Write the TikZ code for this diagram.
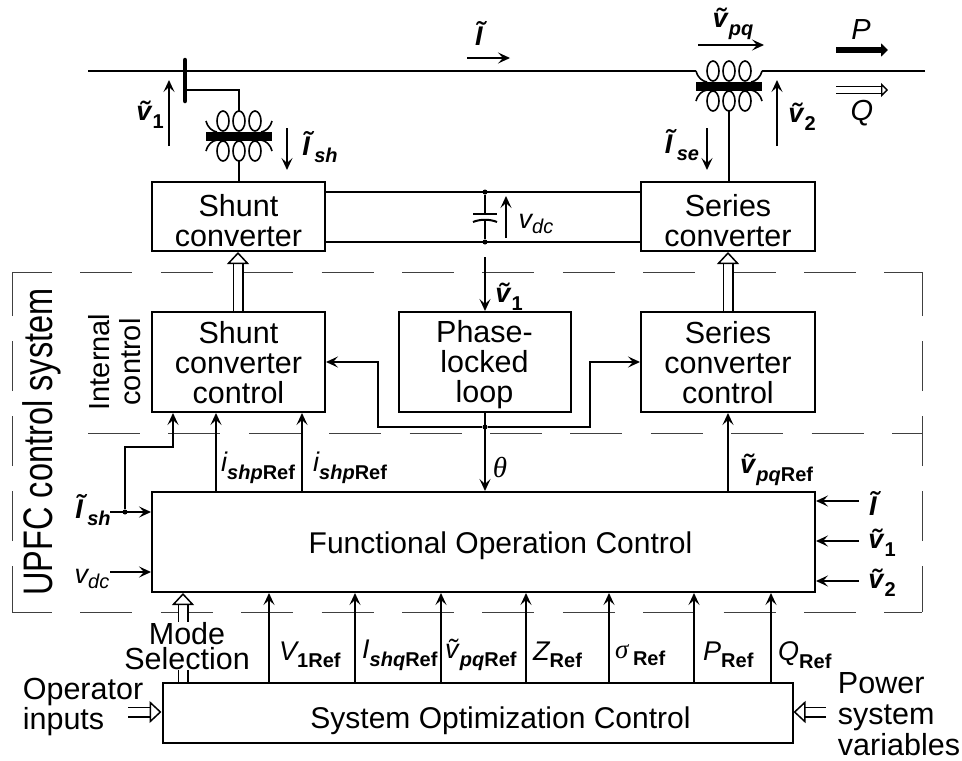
\documentclass[tikz,border=0pt]{standalone}
\usepackage{fontspec}
\setmainfont{Liberation Sans}
\newfontfamily\grk{Liberation Serif}
\usepackage{tikz}
\usetikzlibrary{arrows.meta,positioning,calc}

\newcommand{\bsub}[1]{\raisebox{-0.28em}{\fontsize{20}{20}\selectfont\bfseries\upshape #1}}
\newcommand{\bisub}[1]{\raisebox{-0.28em}{\fontsize{20}{20}\selectfont\bfseries\itshape #1}}
\newcommand{\tv}{\textbf{\textit{\~v}}}
\newcommand{\tI}{\textbf{\textit{\~I}}}
\newcommand{\dn}[1]{\rule{0pt}{#1pt}}

\tikzset{
  xfmr/.pic={
    \draw[thin wire] (-16,-15) ellipse (6 and 10);
    \draw[thin wire] (0,-15) ellipse (6 and 10);
    \draw[thin wire] (16,-15) ellipse (6 and 10);
    \draw[thin wire] (-16,15) ellipse (6 and 10);
    \draw[thin wire] (0,15) ellipse (6 and 10);
    \draw[thin wire] (16,15) ellipse (6 and 10);
    \draw[thin wire] (-33,-15) .. controls (-31,-8) and (-27,-5) .. (-22,-4);
    \draw[thin wire] (33,-15) .. controls (31,-8) and (27,-5) .. (22,-4);
    \draw[thin wire] (-33,15) .. controls (-31,8) and (-27,5) .. (-22,4);
    \draw[thin wire] (33,15) .. controls (31,8) and (27,5) .. (22,4);
    \draw[line width=9pt] (-33,0) -- (33,0);
    \coordinate (-top) at (0,-25);
    \coordinate (-bot) at (0,25);
    \coordinate (-left) at (-33,-15);
    \coordinate (-right) at (33,-15);
  }
}

\begin{document}
\begin{tikzpicture}[
    x=1pt, y=-1pt,
    wire/.style={line width=2pt},
    thin wire/.style={line width=1.6pt},
    box/.style={draw, line width=2pt, minimum width=#1, align=center, inner sep=0pt,
                font=\fontsize{30.5}{30}\selectfont},
    arr/.style={-{Stealth[length=12pt,width=11pt,inset=5pt]}, line width=1.8pt},
    hollow/.style={-{Triangle[fill=white,length=12pt,width=22pt,line width=1.5pt]},
                   double, double distance=8pt, line width=1.5pt},
    hdash/.style={line width=0.9pt, black!75, dash pattern=on 52pt off 28.4pt},
    vdash/.style={line width=0.9pt, black!75, dash pattern=on 50pt off 25pt},
    dot/.style={circle, fill=black, inner sep=0pt, minimum size=5pt},
    lab/.style={inner sep=0pt, font=\fontsize{27}{30}\selectfont},
    ilab/.style={lab, font=\fontsize{27}{30}\selectfont\itshape},
    word/.style={inner sep=0pt, align=left, font=\fontsize{30.5}{30}\selectfont}
  ]
  \useasboundingbox (0,0) rectangle (962,761);

  %% ---- boxes ----
  \node[box=173pt, minimum height=69pt]  (shconv) at (238.5,216.5) {\dn{30}Shunt\\converter};
  \node[box=174pt, minimum height=69pt]  (seconv) at (728,216.5)   {\dn{30}Series\\converter};
  \node[box=173pt, minimum height=100pt] (shctrl) at (238.5,362)   {\dn{24}Shunt\\converter\\control};
  \node[box=172pt, minimum height=100pt] (pll)    at (484.5,362)   {\dn{28}Phase-\\locked\\loop};
  \node[box=174pt, minimum height=100pt] (sectrl) at (728,362)     {\dn{24}Series\\converter\\control};
  \node[box=663pt, minimum height=100pt, font=\fontsize{30}{30}\selectfont] (foc) at (483.5,542) {\dn{30}\hspace*{34pt}Functional Operation Control};
  \node[box=630pt, minimum height=60pt, font=\fontsize{30}{30}\selectfont]  (soc) at (477.5,713) {\dn{38}\hspace*{46pt}System Optimization Control};

  %% ---- dashed frame of the control system ----
  \coordinate (frmSW) at (12,612);
  \coordinate (frmNE) at (922,272);
  \coordinate (frmMid) at (88,433);
  \draw[hdash, dash phase=12pt] (frmSW) -- (frmSW -| frmNE);
  \draw[hdash, dash phase=12pt] (frmNE -| frmSW) -- (frmNE);
  \draw[vdash, dash phase=4pt] (frmSW) -- (frmNE -| frmSW);
  \draw[vdash, dash phase=4pt] (frmSW -| frmNE) -- (frmNE);
  \draw[hdash] (frmMid) -- (frmMid -| frmNE);

  \node[rotate=90, yscale=1.27, inner sep=0pt, font=\fontsize{32.5}{33}\selectfont] (sysname) at (41.5,442) {UPFC control system};
  \node[rotate=90, inner sep=0pt, align=center, font=\fontsize{29}{31}\selectfont] (intname) at (115,362) {Internal\\control};

  %% ---- power line and transformers ----
  \pic (shxf) at (239,136) {xfmr};
  \pic (sexf) at (729,86) {xfmr};
  \coordinate (lineL) at (88,71);
  \coordinate (lineR) at (925,71);
  \draw[wire] (lineL) -- (lineL -| sexf-left);
  \draw[wire] (lineR) -- (lineR -| sexf-right);
  \draw[thin wire] (lineL -| sexf-left) -- (sexf-left);
  \draw[thin wire] (lineR -| sexf-right) -- (sexf-right);

  \coordinate (busT) at (185,60);
  \coordinate (busB) at (185,101);
  \coordinate (busTap) at (185,90);
  \draw[line width=4.5pt, line cap=round] (busT) -- (busB);
  \draw[wire] (busTap) -| (shxf-top);
  \draw[wire] (shxf-bot) -- (shconv.north -| shxf-bot);
  \draw[wire] (sexf-bot) -- (seconv.north -| sexf-bot);

  %% ---- measured quantities on the line ----
  \coordinate (iL) at (467,58);
  \coordinate (iR) at (510,58);
  \draw[arr, line width=1.2pt] (iL) -- (iR);
  \node[lab] (ilab) at (481,33) {\tI};

  \coordinate (vpqL) at (698,45);
  \coordinate (vpqR) at (764,45);
  \draw[arr, line width=1.2pt] (vpqL) -- (vpqR);
  \node[lab] (vpqlab) at (733,24) {\tv\bisub{pq}};

  \coordinate (pL) at (836,50);
  \coordinate (pR) at (888,50);
  \draw[-{Triangle[length=7pt,width=13pt]}, line width=6.5pt] (pL) -- (pR);
  \node[lab, font=\fontsize{29}{30}\selectfont\itshape] (plab) at (861,30) {P};

  \coordinate (qL) at (836,90);
  \coordinate (qR) at (888,90);
  \draw[hollow, -{Triangle[fill=white,length=7pt,width=14pt,line width=1.4pt]}, double distance=5.5pt, line width=1.4pt] (qL) -- (qR);
  \node[lab, font=\fontsize{29}{30}\selectfont\itshape] (qlab) at (862,113) {Q};

  \coordinate (v1B) at (169,146);
  \coordinate (v1T) at (169,80);
  \draw[arr] (v1B) -- (v1T);
  \node[lab] (v1lab) at (150,115) {\tv\bsub{1}};

  \coordinate (v2B) at (777,146);
  \coordinate (v2T) at (777,80);
  \draw[arr] (v2B) -- (v2T);
  \node[lab] (v2lab) at (802,117) {\tv\bsub{2}};

  \coordinate (ishT) at (287,128);
  \coordinate (ishB) at (287,170);
  \draw[arr] (ishT) -- (ishB);
  \node[lab] (ishlab) at (320,147) {\tI\bisub{sh}};

  \coordinate (iseT) at (707,128);
  \coordinate (iseB) at (707,170);
  \draw[arr] (iseT) -- (iseB);
  \node[lab] (iselab) at (682,145) {\tI\bisub{se}};

  %% ---- dc link ----
  \node[dot] (capT) at (485,192) {};
  \node[dot] (capB) at (485,242) {};
  \draw[wire] (shconv.east |- capT) -- (seconv.west |- capT);
  \draw[wire] (shconv.east |- capB) -- (seconv.west |- capB);
  \coordinate (plateT) at (485,214);
  \coordinate (plateB) at (485,219);
  \draw[wire] (capT) -- (plateT);
  \draw[wire] (plateB) -- (capB);
  \draw[wire] ([xshift=-12pt]plateT) -- ([xshift=12pt]plateT);
  \draw[wire] ([xshift=-12pt,yshift=-3pt]plateB) .. controls ([xshift=-5pt]plateB) and ([xshift=5pt]plateB) .. ([xshift=12pt,yshift=-3pt]plateB);
  \coordinate (vdcB) at (506,238);
  \coordinate (vdcT) at (506,196);
  \draw[arr] (vdcB) -- (vdcT);
  \node[ilab] (vdclab) at (536,224) {v\raisebox{-0.2em}{\fontsize{20}{20}\selectfont dc}};

  %% ---- power stage links ----
  \coordinate (shDbl) at (238,280);
  \coordinate (seDbl) at (728,280);
  \draw[hollow] (shctrl.north -| shDbl) -- (shconv.south -| shDbl);
  \draw[hollow] (sectrl.north -| seDbl) -- (seconv.south -| seDbl);

  %% ---- phase-locked loop ----
  \coordinate (pllIn) at (485,257);
  \draw[arr] (pllIn) -- (pll.north -| pllIn);
  \node[lab] (pllv1lab) at (509,297) {\tv\bsub{1}};

  \node[dot] (thJ) at (485,427) {};
  \coordinate (brL) at (378,362);
  \coordinate (brR) at (590,362);
  \draw[arr] (pll.south -| thJ) -- (foc.north -| thJ);
  \draw[arr] (thJ) -| (brL) -- (shctrl.east |- brL);
  \draw[arr] (thJ) -| (brR) -- (sectrl.west |- brR);
  \node[lab, font=\fontsize{29}{30}\selectfont\grk\itshape] (thlab) at (500,467) {θ};

  %% ---- references to internal control ----
  \coordinate (fbTop) at (173,447);
  \node[dot] (ishJ) at (125,512) {};
  \coordinate (ishIn) at (110,512);
  \draw[arr] (ishIn) -- (foc.west |- ishIn);
  \draw[arr] (ishJ) |- (fbTop) -- (shctrl.south -| fbTop);

  \coordinate (ishp) at (216,470);
  \coordinate (ishq) at (302,470);
  \coordinate (vpqr) at (728,470);
  \draw[arr] (foc.north -| ishp) -- (shctrl.south -| ishp);
  \draw[arr] (foc.north -| ishq) -- (shctrl.south -| ishq);
  \draw[arr] (foc.north -| vpqr) -- (sectrl.south -| vpqr);
  \node[ilab, anchor=west] (ishplab) at (221,468) {i\bisub{shp}\bsub{Ref}};
  \node[ilab, anchor=west] (ishqlab) at (313,468) {i\bisub{shp}\bsub{Ref}};
  \node[lab, anchor=west] (vpqrlab) at (740,470) {\tv\bisub{pq}\bsub{Ref}};

  %% ---- side inputs of the functional control ----
  \node[lab] (ishinlab) at (93,510) {\tI\bisub{sh}};
  \coordinate (vdcIn) at (110,572);
  \draw[arr] (vdcIn) -- (foc.west |- vdcIn);
  \node[ilab] (vdcinlab) at (92,579) {v\raisebox{-0.2em}{\fontsize{20}{20}\selectfont dc}};

  \coordinate (inI) at (859,501);
  \coordinate (inVa) at (859,541);
  \coordinate (inVb) at (859,581);
  \draw[arr] (inI) -- (foc.east |- inI);
  \draw[arr] (inVa) -- (foc.east |- inVa);
  \draw[arr] (inVb) -- (foc.east |- inVb);
  \node[lab] (inIlab) at (875,503) {\tI};
  \node[lab] (inValab) at (882,543) {\tv\bsub{1}};
  \node[lab] (inVblab) at (882,583) {\tv\bsub{2}};

  %% ---- system optimization references ----
  \coordinate (rV) at (269,640);
  \coordinate (rI) at (355,640);
  \coordinate (rP) at (441,640);
  \coordinate (rZ) at (526,640);
  \coordinate (rS) at (609,640);
  \coordinate (rPo) at (694,640);
  \coordinate (rQ) at (771,640);
  \draw[arr] (soc.north -| rV) -- (foc.south -| rV);
  \draw[arr] (soc.north -| rI) -- (foc.south -| rI);
  \draw[arr] (soc.north -| rP) -- (foc.south -| rP);
  \draw[arr] (soc.north -| rZ) -- (foc.south -| rZ);
  \draw[arr] (soc.north -| rS) -- (foc.south -| rS);
  \draw[arr] (soc.north -| rPo) -- (foc.south -| rPo);
  \draw[arr] (soc.north -| rQ) -- (foc.south -| rQ);
  \node[ilab, anchor=west] (rVlab) at (279,655) {V\bsub{1Ref}};
  \node[ilab, anchor=west] (rIlab) at (362,655) {I\bisub{shq}\bsub{Ref}};
  \node[lab, anchor=west] (rPlab) at (445,655) {\textit{\~v}\bisub{pq}\bsub{Ref}};
  \node[ilab, anchor=west] (rZlab) at (533,655) {Z\bsub{Ref}};
  \node[lab, anchor=west] (rSlab) at (615,655) {{\grk\itshape σ}\,\bsub{Ref}};
  \node[ilab, anchor=west] (rPolab) at (703,655) {P\bsub{Ref}};
  \node[ilab, anchor=west] (rQlab) at (778,655) {Q\bsub{Ref}};

  %% ---- mode selection and outside inputs ----
  \coordinate (modeX) at (183,640);
  \draw[hollow] (soc.north -| modeX) -- (foc.south -| modeX);
  \node[word, align=center, fill=white, font=\fontsize{30.5}{25}\selectfont] (modelab) at (187,646) {Mode\\Selection};

  \coordinate (opIn) at (128,712);
  \draw[hollow] (opIn) -- (soc.west |- opIn);
  \node[word] (oplab) at (83,707) {Operator\\inputs};

  \coordinate (pwIn) at (826,712);
  \draw[hollow] (pwIn) -- (soc.east |- pwIn);
  \node[word, font=\fontsize{30.5}{31}\selectfont] (pwlab) at (899,714) {Power\\system\\variables};

\end{tikzpicture}
\end{document}
